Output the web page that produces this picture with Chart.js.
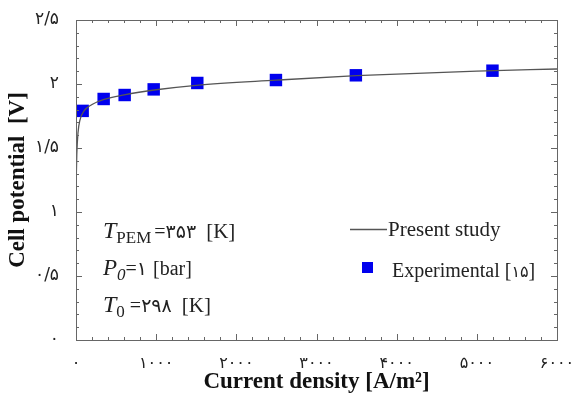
<!DOCTYPE html>
<html>
<head>
<meta charset="utf-8">
<script src="https://cdn.jsdelivr.net/npm/chart.js@4.4.1/dist/chart.umd.min.js"></script>
<style>
  html, body { margin: 0; padding: 0; background: #fff; }
  #wrap { width: 581px; height: 396px; }
</style>
</head>
<body>
<div id="wrap"><canvas id="chart" width="581" height="396"></canvas></div>
<script>
// model curve (present study)
const modelX = [0, 10, 25, 50, 100, 200, 350, 600, 1000, 1500, 2500, 3500, 5000, 6000];
const modelY = [1.17, 1.45, 1.62, 1.72, 1.79, 1.84, 1.88, 1.915, 1.955, 1.99, 2.03, 2.065, 2.10, 2.117];

// experimental points [15]
const expX = [83, 345, 607, 969, 1513, 2494, 3491, 5195];
const expY = [1.79, 1.883, 1.914, 1.958, 2.008, 2.031, 2.068, 2.104];

const xTicks = [0, 1000, 2000, 3000, 4000, 5000, 6000];
const yTicks = [0, 0.5, 1, 1.5, 2, 2.5];

const serif = '"Liberation Serif", "Times New Roman", "DejaVu Sans", serif';
const fa = '"DejaVu Sans", sans-serif';

function toFa(v) {
  const d = '۰۱۲۳۴۵۶۷۸۹';
  return String(v).replace('.', '/').replace(/[0-9]/g, c => d[+c]);
}

// box + inward ticks on all four sides
const framePlugin = {
  id: 'frame',
  afterDraw(chart) {
    const { ctx, chartArea: a, scales: { x, y } } = chart;
    ctx.save();
    ctx.strokeStyle = '#666';
    ctx.lineWidth = 1;
    ctx.strokeRect(a.left + 0.5, a.top + 0.5, a.right - a.left, a.bottom - a.top);
    ctx.beginPath();
    for (let v = 0; v <= 6000; v += 200) {
      const px = Math.round(x.getPixelForValue(v)) + 0.5;
      const len = v % 1000 === 0 ? 6 : 3;
      ctx.moveTo(px, a.bottom); ctx.lineTo(px, a.bottom - len);
      ctx.moveTo(px, a.top); ctx.lineTo(px, a.top + len);
    }
    for (let i = 0; i <= 25; i++) {
      const py = Math.round(y.getPixelForValue(i / 10)) + 0.5;
      const len = i % 5 === 0 ? 6 : 3;
      ctx.moveTo(a.left, py); ctx.lineTo(a.left + len, py);
      ctx.moveTo(a.right, py); ctx.lineTo(a.right - len, py);
    }
    ctx.stroke();
    ctx.restore();
  }
};

// parameter text + legend inside plot
const notesPlugin = {
  id: 'notes',
  afterDraw(chart) {
    const { ctx } = chart;
    ctx.save();
    ctx.fillStyle = '#222';
    ctx.textBaseline = 'alphabetic';

    function run(parts, x, y) {
      for (const p of parts) {
        ctx.font = p.f;
        ctx.fillText(p.t, x, y + (p.dy || 0));
        x += ctx.measureText(p.t).width + (p.gap || 0);
      }
    }
    run([
      { t: 'T', f: 'italic 24px ' + serif },
      { t: 'PEM', f: '17px ' + serif, dy: 5, gap: 3 },
      { t: '=', f: '20px ' + serif },
      { t: toFa(353), f: '19px ' + fa, gap: 10 },
      { t: '[K]', f: '21px ' + serif }
    ], 103, 238);
    run([
      { t: 'P', f: 'italic 23px ' + serif },
      { t: '0', f: 'italic 17px ' + serif, dy: 5 },
      { t: '=', f: '20px ' + serif },
      { t: toFa(1), f: '19px ' + fa, gap: 6 },
      { t: '[bar]', f: '20px ' + serif }
    ], 103, 275);
    run([
      { t: 'T', f: 'italic 24px ' + serif },
      { t: '0', f: '17px ' + serif, dy: 5, gap: 5 },
      { t: '=', f: '20px ' + serif },
      { t: toFa(298), f: '19px ' + fa, gap: 10 },
      { t: '[K]', f: '21px ' + serif }
    ], 103, 312);

    // legend
    ctx.strokeStyle = '#555';
    ctx.lineWidth = 1.3;
    ctx.beginPath();
    ctx.moveTo(350, 229.5); ctx.lineTo(387, 229.5);
    ctx.stroke();
    ctx.font = '21px ' + serif;
    ctx.fillText('Present study', 388, 236);
    ctx.fillStyle = '#0000ee';
    ctx.fillRect(362, 262, 11, 11);
    ctx.fillStyle = '#222';
    ctx.font = '20px ' + serif;
    ctx.fillText('Experimental [', 392, 277);
    let w = ctx.measureText('Experimental [').width;
    ctx.font = '16px ' + fa;
    ctx.fillText(toFa(15), 392 + w, 277);
    w += ctx.measureText(toFa(15)).width;
    ctx.font = '20px ' + serif;
    ctx.fillText(']', 392 + w, 277);
    ctx.restore();
  }
};

new Chart(document.getElementById('chart'), {
  type: 'scatter',
  data: {
    datasets: [
      {
        label: 'Present study',
        data: modelX.map((v, i) => ({ x: v, y: modelY[i] })),
        showLine: true,
        borderColor: '#555',
        borderWidth: 1.3,
        pointRadius: 0,
        cubicInterpolationMode: 'monotone'
      },
      {
        label: 'Experimental [15]',
        data: expX.map((v, i) => ({ x: v, y: expY[i] })),
        pointStyle: 'rect',
        pointRadius: 8.8,
        backgroundColor: '#0000ee',
        borderColor: '#0000ee',
        borderWidth: 0
      }
    ]
  },
  options: {
    responsive: false,
    animation: false,
    layout: { padding: { top: 20, right: 24, left: 0, bottom: 0 } },
    plugins: { legend: { display: false }, tooltip: { enabled: false } },
    scales: {
      x: {
        type: 'linear',
        min: 0, max: 6000,
        afterBuildTicks: s => { s.ticks = xTicks.map(v => ({ value: v })); },
        afterFit: s => { s.height = 56; },
        grid: { display: false },
        border: { display: false },
        ticks: {
          callback: v => toFa(v),
          font: { family: fa, size: 16 },
          color: '#222',
          padding: 6,
          maxRotation: 0
        },
        title: {
          display: true,
          text: 'Current density [A/m²]',
          font: { family: serif, size: 23, weight: 'bold' },
          color: '#111',
          padding: { top: 0, bottom: 0 }
        }
      },
      y: {
        min: 0, max: 2.5,
        afterBuildTicks: s => { s.ticks = yTicks.map(v => ({ value: v })); },
        afterFit: s => { s.width = 76; },
        grid: { display: false },
        border: { display: false },
        ticks: {
          callback: v => toFa(v),
          font: { family: fa, size: 17 },
          color: '#222',
          padding: 9
        },
        title: {
          display: true,
          text: 'Cell potential  [V]',
          font: { family: serif, size: 23, weight: 'bold' },
          color: '#111',
          padding: { top: 4, bottom: 0 }
        }
      }
    }
  },
  plugins: [framePlugin, notesPlugin]
});
</script>
</body>
</html>
